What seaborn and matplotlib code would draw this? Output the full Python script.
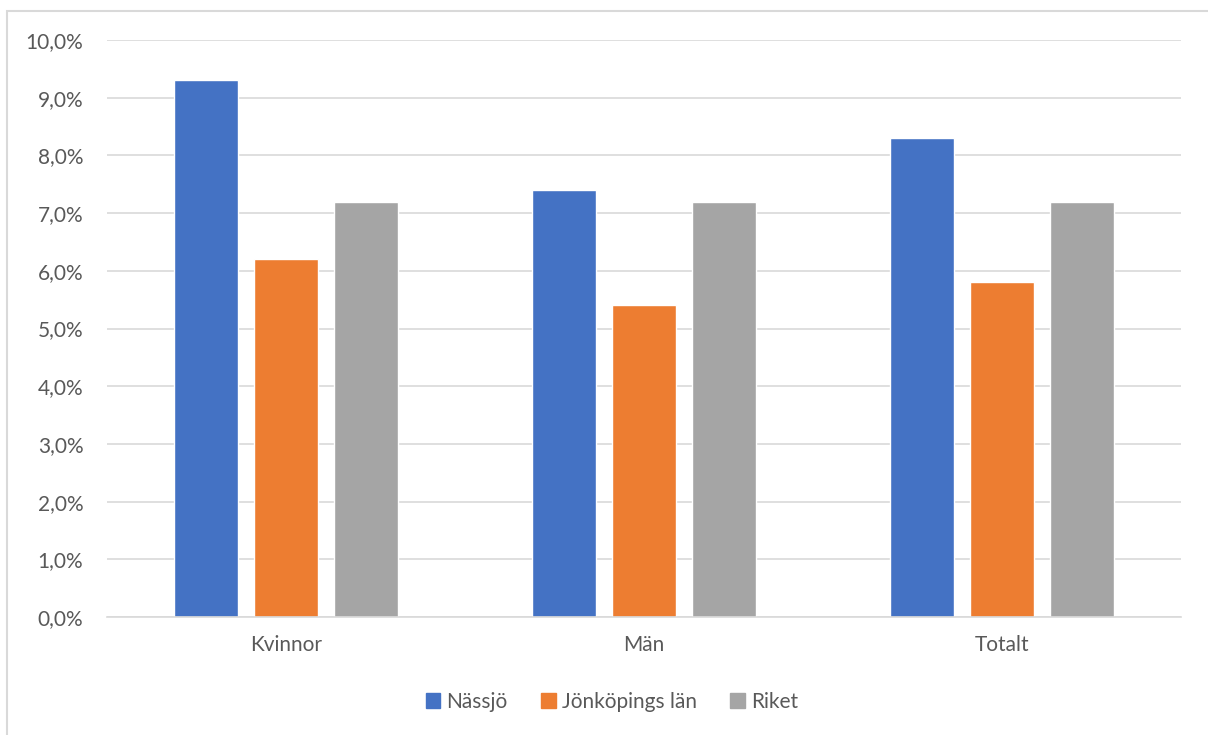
import matplotlib
matplotlib.use("Agg")
import matplotlib.pyplot as plt
import matplotlib.patches as mpatches
from matplotlib.ticker import FuncFormatter, MultipleLocator
import seaborn as sns
import pandas as pd

categories = ["Kvinnor", "Män", "Totalt"]
series_names = ["Nässjö", "Jönköpings län", "Riket"]
nassjo = [9.3, 7.4, 8.3]
jonkoping = [6.2, 5.4, 5.8]
riket = [7.2, 7.2, 7.2]
colors = ["#4472C4", "#ED7D31", "#A5A5A5"]

rows = []
for name, vals in zip(series_names, [nassjo, jonkoping, riket]):
    for cat, v in zip(categories, vals):
        rows.append({"Grupp": cat, "Område": name, "Andel": v})
df = pd.DataFrame(rows)

sns.set_theme(style="white")
plt.rcParams["font.family"] = ["Lato", "DejaVu Sans"]
text_color = "#595959"

fig = plt.figure(figsize=(12.08, 7.35), dpi=100)
ax = fig.add_axes([107 / 1208, 1 - 617 / 735, 1074 / 1208, 577 / 735])

sns.barplot(data=df, x="Grupp", y="Andel", hue="Område", order=categories,
            hue_order=series_names, palette=colors, width=0.67, gap=0.2,
            saturation=1, ax=ax, legend=False)

ax.set_ylim(0, 10)
ax.set_xlim(-0.5, 2.5)
ax.yaxis.set_major_locator(MultipleLocator(1))
ax.yaxis.set_major_formatter(FuncFormatter(lambda v, p: f"{v:.1f}%".replace(".", ",")))
ax.grid(axis="y", color="#D9D9D9", linewidth=1.2)
ax.set_axisbelow(True)
for s in ["top", "right", "left"]:
    ax.spines[s].set_visible(False)
ax.spines["bottom"].set_color("#D9D9D9")
ax.spines["bottom"].set_linewidth(1.2)
ax.tick_params(axis="y", length=0, pad=17, labelsize=15, labelcolor=text_color)
ax.tick_params(axis="x", length=0, pad=13, labelsize=15, labelcolor=text_color)
ax.set_xlabel("")
ax.set_ylabel("")

handles = [mpatches.Patch(color=c, label=n) for c, n in zip(colors, series_names)]
fig.legend(handles=handles, loc="center", bbox_to_anchor=(612 / 1208, 1 - 702 / 735),
           ncol=3, frameon=False, fontsize=15, labelcolor=text_color,
           handlelength=0.7, handleheight=0.7, handletextpad=0.3, columnspacing=1.6)

border = mpatches.Rectangle((7 / 1208, -0.01), 1.02, 1 - 11 / 735 + 0.01,
                            transform=fig.transFigure, fill=False,
                            edgecolor="#D9D9D9", linewidth=1.5, clip_on=False)
fig.patches.append(border)

fig.savefig("out.png", dpi=100, facecolor="white")
